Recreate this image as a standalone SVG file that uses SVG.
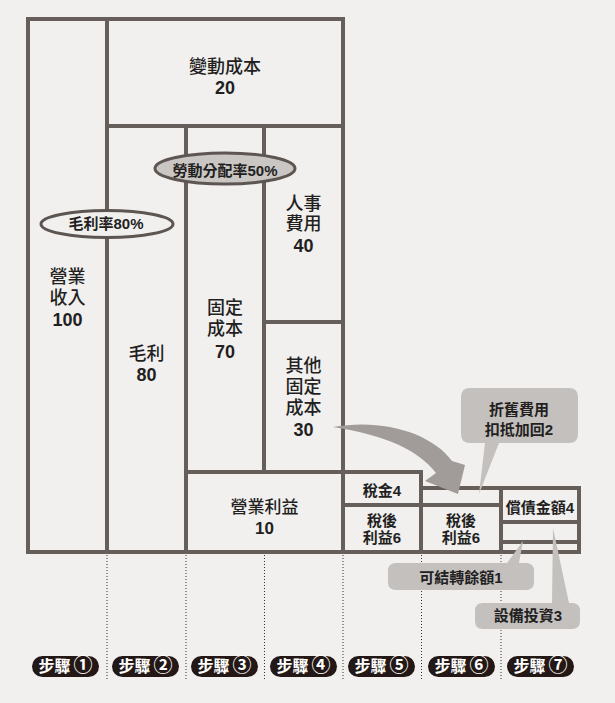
<svg xmlns="http://www.w3.org/2000/svg" width="615" height="703" viewBox="0 0 615 703">
<style>
.cell{fill:none;stroke:#665e5a;stroke-width:4}
.t{font-family:"Liberation Sans","Noto Sans CJK TC",sans-serif;fill:#231f1e;text-anchor:middle}
.m{font-size:18px;font-weight:500}
.n{font-size:18px;font-weight:bold}
.s{font-size:15px;font-weight:bold}
.ell{stroke:#5d5551;stroke-width:3}
.call{fill:#c3c0be}
.pill{fill:#231815}
.pt{font-family:"Liberation Sans","Noto Sans CJK TC",sans-serif;font-size:16px;font-weight:bold;fill:#ffffff;text-anchor:middle}
.c{font-size:19px}
.dot{stroke:#333;stroke-width:1;stroke-dasharray:1 2}
</style>
<rect width="615" height="703" fill="#f1f0ee"/>
<g id="guides">
<line class="dot" x1="107" y1="555" x2="107" y2="681"/>
<line class="dot" x1="186" y1="555" x2="186" y2="681"/>
<line class="dot" x1="264.5" y1="555" x2="264.5" y2="681"/>
<line class="dot" x1="343" y1="555" x2="343" y2="681"/>
<line class="dot" x1="421.5" y1="555" x2="421.5" y2="681"/>
<line class="dot" x1="501" y1="555" x2="501" y2="681"/>
</g>
<g id="revenue"><rect class="cell" x="28" y="19" width="79" height="533"/>
<text class="t m" x="67.5" y="283">營業</text><text class="t m" x="67.5" y="304">收入</text><text class="t n" x="67.5" y="326">100</text></g>
<g id="variable-cost"><rect class="cell" x="107" y="19" width="236" height="107"/>
<text class="t m" x="225" y="73">變動成本</text><text class="t n" x="225" y="94">20</text></g>
<g id="gross-profit"><rect class="cell" x="107" y="126" width="79" height="426"/>
<text class="t m" x="146.5" y="360">毛利</text><text class="t n" x="146.5" y="381">80</text></g>
<g id="fixed-cost"><rect class="cell" x="186" y="126" width="78" height="346"/>
<text class="t m" x="225" y="314">固定</text><text class="t m" x="225" y="335">成本</text><text class="t n" x="225" y="358">70</text></g>
<g id="personnel"><rect class="cell" x="264" y="126" width="79" height="196"/>
<text class="t m" x="303.5" y="210">人事</text><text class="t m" x="303.5" y="230">費用</text><text class="t n" x="303.5" y="252">40</text></g>
<g id="other-fixed"><rect class="cell" x="264" y="322" width="79" height="150"/>
<text class="t m" x="303.5" y="372">其他</text><text class="t m" x="303.5" y="393">固定</text><text class="t m" x="303.5" y="414">成本</text><text class="t n" x="303.5" y="436">30</text></g>
<g id="operating-profit"><rect class="cell" x="186" y="472" width="157" height="80"/>
<text class="t" style="font-size:17px;font-weight:500" x="264.5" y="513">營業利益</text><text class="t" style="font-size:17px;font-weight:bold" x="264.5" y="534">10</text></g>
<g id="tax"><rect class="cell" x="343" y="472" width="78" height="33"/>
<text class="t s" x="382" y="496">稅金4</text></g>
<g id="net-profit-5"><rect class="cell" x="343" y="505" width="78" height="47"/>
<text class="t s" x="382" y="526">稅後</text><text class="t s" x="382" y="543">利益6</text></g>
<g id="depreciation-strip"><rect class="cell" x="421" y="488" width="80" height="17"/></g>
<g id="net-profit-6"><rect class="cell" x="421" y="505" width="80" height="47"/>
<text class="t s" x="461" y="526">稅後</text><text class="t s" x="461" y="543">利益6</text></g>
<g id="debt-repay"><rect class="cell" x="501" y="488" width="78" height="34"/>
<text class="t s" x="540" y="513">償債金額4</text></g>
<g id="equipment-row"><rect class="cell" x="501" y="522" width="78" height="20"/></g>
<g id="carry-row"><rect class="cell" x="501" y="542" width="78" height="10"/></g>
<g id="gross-margin"><ellipse class="ell" cx="107" cy="224" rx="66" ry="13.5" fill="#f1f0ee"/>
<text class="t s" x="106" y="229">毛利率80%</text></g>
<g id="labor-share"><ellipse class="ell" cx="225" cy="168.5" rx="70" ry="15.5" fill="#c9c6c4"/>
<text class="t s" x="225" y="176">勞動分配率50%</text></g>
<g id="connectors">
<path d="M333,427 C382,418 432,433 452,461 L465,465 L458,494 L425,481 L436,473 C418,450 388,436 333,427 Z" fill="#a19c99"/>
</g>
<g id="callout-depreciation"><path class="call" d="M470,388 H569 Q578,388 578,397 V434 Q578,443 569,443 H499 L479,494 L485,443 H470 Q461,443 461,434 V397 Q461,388 470,388 Z"/>
<text class="t s" x="519" y="415">折舊費用</text><text class="t s" x="519" y="435">扣抵加回2</text></g>
<g id="callout-carry"><path class="call" d="M396,563 H507 L523,541 L519,563 H526 Q534,563 534,571 V582 Q534,590 526,590 H396 Q388,590 388,582 V571 Q388,563 396,563 Z"/>
<text class="t s" x="461" y="583">可結轉餘額1</text></g>
<g id="callout-equipment"><path class="call" d="M483,603 H552 L553,528 L569,603 H572 Q580,603 580,611 V621 Q580,629 572,629 H483 Q475,629 475,621 V611 Q475,603 483,603 Z"/>
<text class="t s" x="528" y="621">設備投資3</text></g>
<g id="step1"><rect class="pill" x="32" y="656" width="67" height="21" rx="10.5"/><text class="pt" x="65.5" y="672">步驟<tspan class="c" dx="3">①</tspan></text></g>
<g id="step2"><rect class="pill" x="112" y="656" width="67" height="21" rx="10.5"/><text class="pt" x="145.5" y="672">步驟<tspan class="c" dx="3">②</tspan></text></g>
<g id="step3"><rect class="pill" x="191" y="656" width="67" height="21" rx="10.5"/><text class="pt" x="224.5" y="672">步驟<tspan class="c" dx="3">③</tspan></text></g>
<g id="step4"><rect class="pill" x="270" y="656" width="67" height="21" rx="10.5"/><text class="pt" x="303.5" y="672">步驟<tspan class="c" dx="3">④</tspan></text></g>
<g id="step5"><rect class="pill" x="348" y="656" width="67" height="21" rx="10.5"/><text class="pt" x="381.5" y="672">步驟<tspan class="c" dx="3">⑤</tspan></text></g>
<g id="step6"><rect class="pill" x="428" y="656" width="67" height="21" rx="10.5"/><text class="pt" x="461.5" y="672">步驟<tspan class="c" dx="3">⑥</tspan></text></g>
<g id="step7"><rect class="pill" x="507" y="656" width="67" height="21" rx="10.5"/><text class="pt" x="540.5" y="672">步驟<tspan class="c" dx="3">⑦</tspan></text></g>
</svg>
